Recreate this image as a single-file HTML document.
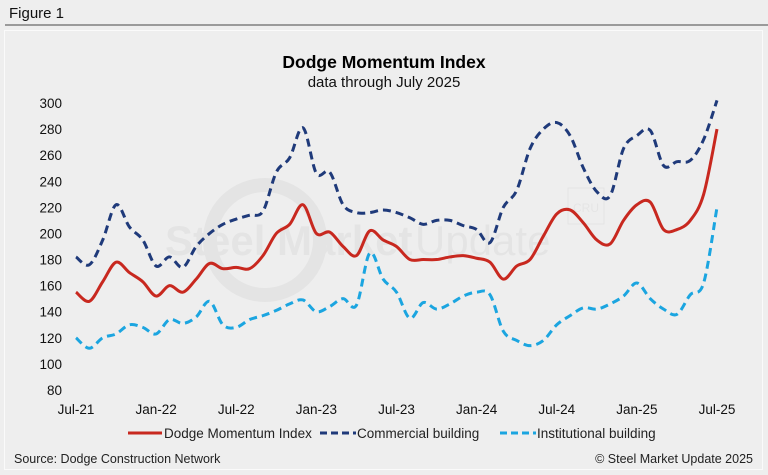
<!DOCTYPE html>
<html><head><meta charset="utf-8"><style>
body{margin:0;width:768px;height:475px;background:#eeeeee;font-family:"Liberation Sans",sans-serif;overflow:hidden;position:relative}
</style></head><body>
<div style="position:absolute;left:9px;top:5px;font-size:15px;color:#111">Figure 1</div>
<div style="position:absolute;left:5px;top:24px;width:763px;height:2px;background:#9a9a9a"></div>
<div style="position:absolute;left:4px;top:30px;width:757px;height:438px;border:1.5px solid #fafafa;background:#eeeeee"></div>
<svg id="chart" width="768" height="475" style="position:absolute;left:0;top:0">
<text x="384" y="68" text-anchor="middle" font-size="17.5" font-weight="bold" fill="#000">Dodge Momentum Index</text>
<text x="384" y="87" text-anchor="middle" font-size="15" fill="#111">data through July 2025</text>
<g opacity="0.035">
<circle cx="265" cy="240" r="55" fill="none" stroke="#000" stroke-width="14"/>
<text x="165" y="255" font-size="42" font-weight="bold" fill="#000">Steel Market</text>
<text x="415" y="255" font-size="42" fill="#000">Update</text>
<rect x="568" y="188" width="36" height="36" fill="none" stroke="#000"/>
<text x="586" y="212" font-size="12" text-anchor="middle" fill="#000">CRU</text>
</g>
<g id="yaxis"></g><g id="xaxis"></g><g id="series"></g>
<g>
<line x1="128" y1="433" x2="162" y2="433" stroke="#c8281f" stroke-width="3"/>
<text x="164" y="438" font-size="13.5" fill="#222">Dodge Momentum Index</text>
<line x1="320" y1="433" x2="356" y2="433" stroke="#1f3a7a" stroke-width="3" stroke-dasharray="7,4"/>
<text x="357" y="438" font-size="13.5" fill="#222">Commercial building</text>
<line x1="500" y1="433" x2="536" y2="433" stroke="#1ba5e0" stroke-width="3" stroke-dasharray="7,4"/>
<text x="537" y="438" font-size="13.5" fill="#222">Institutional building</text>
</g>
<text x="14" y="463" font-size="12.5" fill="#222">Source: Dodge Construction Network</text>
<text x="753" y="463" text-anchor="end" font-size="12.5" fill="#222">© Steel Market Update 2025</text>
</svg>
<script>
const yTicks=[80,100,120,140,160,180,200,220,240,260,280,300];
const xTickLabels=["Jul-21","Jan-22","Jul-22","Jan-23","Jul-23","Jan-24","Jul-24","Jan-25","Jul-25"];
const dmi=[155,148,163,178,170,163,152,160,155,165,177,173,174,173,183,200,207,222,200,201,190,183,202,195,190,180,180,180,182,183,181,178,165,175,180,198,215,218,208,195,192,210,222,224,203,203,210,230,280];
const commercial=[182,176,195,222,205,195,175,182,174,190,200,207,211,214,217,247,258,281,246,247,222,216,216,218,216,212,207,210,210,206,203,193,220,233,265,280,285,275,250,232,229,265,275,279,252,255,256,272,302];
const institutional=[120,112,120,123,130,128,123,134,131,136,148,130,128,134,137,141,146,149,140,144,150,145,185,165,155,135,147,142,146,152,155,153,125,118,114,118,130,137,143,142,146,152,162,150,142,138,153,162,220];
const NS="http://www.w3.org/2000/svg";
const x0=76,x1=717,y0=103,y1=390,vmin=80,vmax=300;
function xs(i){return x0+i*(x1-x0)/(dmi.length-1);}
function ys(v){return y0+(vmax-v)*(y1-y0)/(vmax-vmin);}
const ya=document.getElementById('yaxis');
yTicks.forEach(t=>{const e=document.createElementNS(NS,'text');


e.setAttribute('x',62);e.setAttribute('y',ys(t)+5);e.setAttribute('text-anchor','end');e.setAttribute('font-size','13.5');e.setAttribute('fill','#111');e.textContent=t;ya.appendChild(e);});
const xa=document.getElementById('xaxis');
xTickLabels.forEach((t,k)=>{const e=document.createElementNS(NS,'text');


e.setAttribute('x',xs(k*6));e.setAttribute('y',414);e.setAttribute('text-anchor','middle');e.setAttribute('font-size','13.5');e.setAttribute('fill','#111');e.textContent=t;xa.appendChild(e);});
function path(arr){const p=arr.map((v,i)=>[xs(i),ys(v)]);let d='M'+p[0][0]+','+p[0][1];
for(let i=0;i<p.length-1;i++){const a=p[Math.max(0,i-1)],b=p[i],c=p[i+1],e=p[Math.min(p.length-1,i+2)];
d+=' C'+(b[0]+(c[0]-a[0])/6)+','+(b[1]+(c[1]-a[1])/6)+' '+(c[0]-(e[0]-b[0])/6)+','+(c[1]-(e[1]-b[1])/6)+' '+c[0]+','+c[1];}return d;}
const sg=document.getElementById('series');
function add(arr,color,dash,name){const e=document.createElementNS(NS,'path');


e.setAttribute('d',path(arr));e.setAttribute('fill','none');e.setAttribute('stroke',color);e.setAttribute('stroke-width','3');if(dash)e.setAttribute('stroke-dasharray',dash);sg.appendChild(e);}
add(institutional,'#1ba5e0','8,5','institutional-line');
add(commercial,'#1f3a7a','8,5','commercial-line');
add(dmi,'#c8281f',null,'dmi-line');
</script>
</body></html>
